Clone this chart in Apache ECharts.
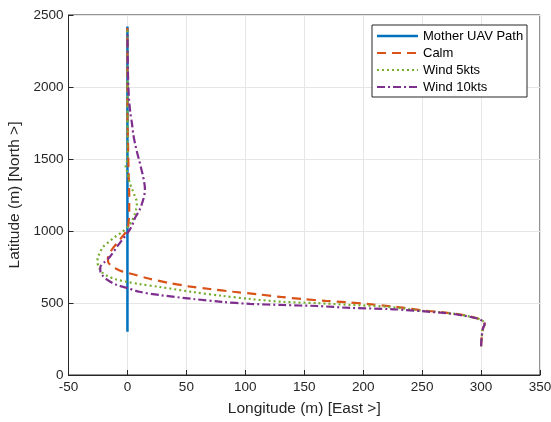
<!DOCTYPE html>
<html><head><meta charset="utf-8">
<script src="https://cdn.jsdelivr.net/npm/echarts@6/dist/echarts.min.js"></script>
<style>html,body{margin:0;padding:0;background:#fff}#c{width:551px;height:422px}</style>
</head><body><div id="c"></div>
<script>
// Series names
var seriesNames = ['Mother UAV Path', 'Calm', 'Wind 5kts', 'Wind 10kts'];
// Axis ticks
var xTicks = [-50, 0, 50, 100, 150, 200, 250, 300, 350];
var yTicks = [0, 500, 1000, 1500, 2000, 2500];

// Mother UAV path
var motherLon = [0, 0];
var motherLat = [300, 2420];

// Calm
var calmLon = [300, 300.5, 301.5, 303, 302, 297, 288, 278, 265, 250, 235, 224, 205, 186, 168, 149, 130, 111, 90, 70, 52, 36, 18, 4, -4, -10, -14, -16.5, -16.5, -14.5, -12, -8, -4, 0, 1, 1.5, 1.5, 1, 0.5, 0, 0, 0];
var calmLat = [200, 260, 320, 355, 372, 392, 412, 426, 437, 449, 466, 477, 492, 505, 515, 527, 542, 560, 578, 597, 616, 638, 670, 701, 718, 740, 760, 790, 825, 855, 885, 924, 965, 1010, 1060, 1150, 1250, 1400, 1600, 1800, 2100, 2410];

// Wind 5kts
var w5Lon = [300, 300.5, 301.5, 303, 302, 297, 288, 278, 264, 250, 234, 217, 189, 161, 132, 104, 80, 55.6, 27.6, 10, 0, -10, -17, -21.5, -24, -25.5, -25, -23, -20.8, -15, -10.6, -5, 0, 3.5, 6, 7.3, 8, 7.6, 6.4, 4, 2, 0, -1.5, 0, 0, 0, 0];
var w5Lat = [200, 260, 320, 355, 372, 392, 410, 424, 436, 446, 462, 476, 487, 499, 508, 528, 550, 576, 611, 632, 646, 665, 688, 712, 745, 785, 820, 855, 889, 930, 958, 990, 1028, 1065, 1110, 1150, 1190, 1215, 1240, 1290, 1333, 1403, 1450, 1500, 1800, 2100, 2400];

// Wind 10kts
var w10Lon = [300, 300.5, 301.5, 303, 302, 297, 288, 278, 264, 250, 236, 223, 189, 161, 132, 104, 80, 55.6, 27.6, 10, 0, -10, -17, -21, -23, -23, -20, -15, -8, 0, 2, 3.5, 5, 6.4, 8.5, 10.5, 12.3, 13.8, 14.7, 14.8, 14.2, 13, 11.5, 10, 8.2, 6.6, 5, 3.8, 2.5, 1.5, 0.8, 0.3, 0];
var w10Lat = [200, 260, 320, 355, 372, 392, 408, 422, 434, 443, 451, 458, 466, 479, 486, 494, 508, 528, 555, 578, 604, 628, 660, 690, 720, 750, 780, 819, 900, 986, 1010, 1030, 1060, 1090, 1120, 1150, 1190, 1230, 1270, 1300, 1340, 1390, 1440, 1490, 1545, 1600, 1670, 1750, 1820, 1900, 2000, 2150, 2380];

function zip(a, b) { return a.map(function (v, i) { return [v, b[i]]; }); }

var colors = ['#0072BD', '#D95319', '#77AC30', '#7E2F8E'];
var dashes = [null, [9, 6], [2, 3], [8, 3, 2, 3]];
var widths = [2.5, 2.2, 2.2, 2.2];

var txt = '#262626';
var font = 'Liberation Sans, Arial, sans-serif';

// Legend drawn as graphic (box, line samples, text)
var legendX = 372, legendY = 25, legendW = 155, legendH = 72, rowGap = 17;
var legendEls = [{type: 'rect', shape: {x: legendX, y: legendY, width: legendW, height: legendH},
  style: {fill: '#fff', stroke: '#262626', lineWidth: 1}, z: 100}];
seriesNames.forEach(function (n, i) {
  var cy = legendY + 11 + i * rowGap;
  legendEls.push({type: 'line', shape: {x1: legendX + 5, y1: cy, x2: legendX + 46, y2: cy},
    style: {stroke: colors[i], lineWidth: widths[i], lineDash: dashes[i]}, z: 101});
  legendEls.push({type: 'text', x: legendX + 51, y: cy,
    style: {text: n, fill: '#000', font: '13px ' + font, textVerticalAlign: 'middle', verticalAlign: 'middle'}, z: 101});
});

var chart = echarts.init(document.getElementById('c'), null, {renderer: 'canvas'});
var ser = [zip(motherLon, motherLat), zip(calmLon, calmLat), zip(w5Lon, w5Lat), zip(w10Lon, w10Lat)];
chart.setOption({
  animation: false,
  backgroundColor: '#fff',
  textStyle: {fontFamily: font},
  grid: {left: 68.5, right: 11, top: 15, bottom: 47, show: true, borderColor: '#262626', borderWidth: 1,
    backgroundColor: 'transparent', containLabel: false, outerBoundsMode: 'none'},
  xAxis: {
    type: 'value', min: xTicks[0], max: xTicks[xTicks.length - 1], interval: 50,
    name: 'Longitude (m) [East >]', nameLocation: 'middle', nameGap: 26,
    nameTextStyle: {fontSize: 15.5, color: txt},
    axisLine: {show: true, onZero: false, lineStyle: {color: '#262626'}},
    axisTick: {show: true, inside: true, length: 5, lineStyle: {color: '#262626'}},
    axisLabel: {fontSize: 13.5, color: txt, margin: 5, formatter: function (v) { return String(v); }},
    splitLine: {show: true, lineStyle: {color: '#e6e6e6', width: 1}}
  },
  yAxis: {
    type: 'value', min: yTicks[0], max: yTicks[yTicks.length - 1], interval: 500,
    name: 'Latitude (m) [North >]', nameLocation: 'middle', nameGap: 36,
    nameTextStyle: {fontSize: 15.5, color: txt},
    axisLine: {show: true, onZero: false, lineStyle: {color: '#262626'}},
    axisTick: {show: true, inside: true, length: 5, lineStyle: {color: '#262626'}},
    axisLabel: {fontSize: 13.5, color: txt, margin: 5, formatter: function (v) { return String(v); }},
    splitLine: {show: true, lineStyle: {color: '#e6e6e6', width: 1}}
  },
  graphic: legendEls,
  series: seriesNames.map(function (n, i) {
    return {name: n, type: 'line', symbol: 'none', smooth: i === 0 ? false : 0.3, data: ser[i],
      color: colors[i], lineStyle: {width: widths[i], color: colors[i], type: dashes[i] || 'solid'}};
  })
});
</script></body></html>
